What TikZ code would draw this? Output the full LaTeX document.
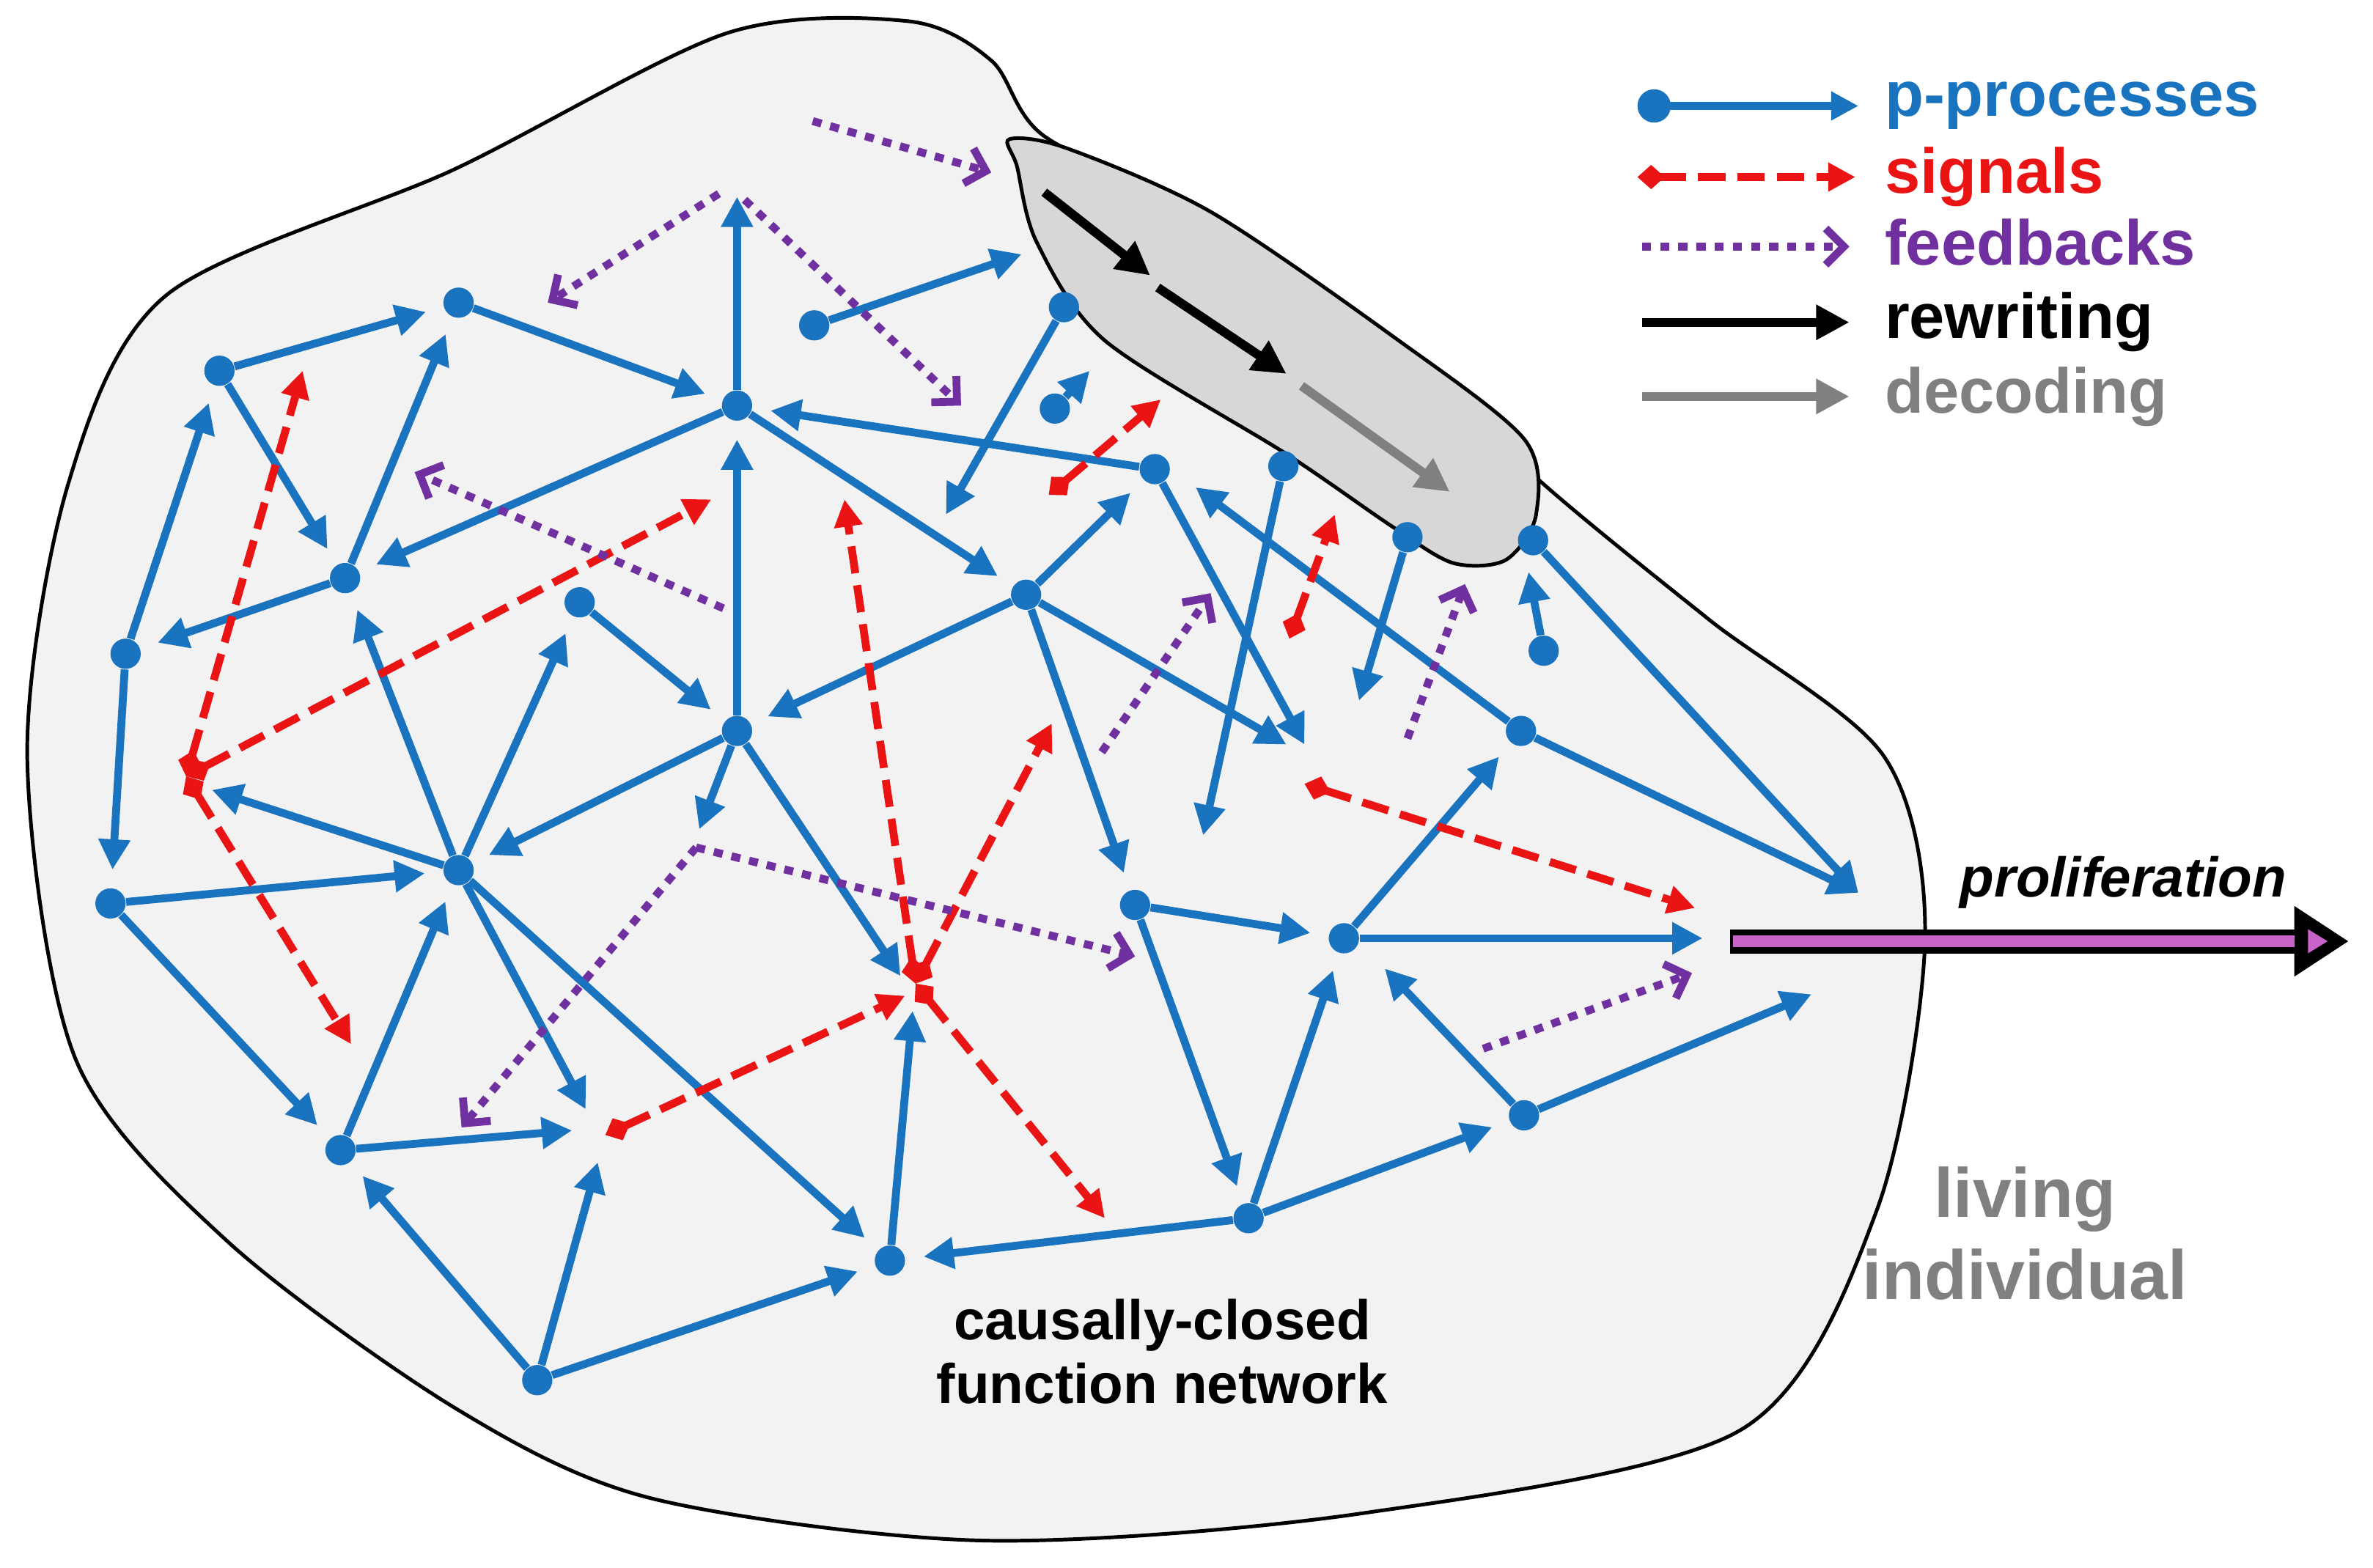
\documentclass[tikz,border=0pt]{standalone}
\usepackage{fontspec}
\setmainfont{Liberation Sans}
\usetikzlibrary{arrows.meta}
\definecolor{pb}{RGB}{25,115,190}
\definecolor{sr}{RGB}{235,20,20}
\definecolor{fp}{RGB}{112,48,160}
\definecolor{bg}{RGB}{242,242,242}
\definecolor{gb}{RGB}{215,215,215}
\definecolor{mg}{RGB}{200,100,200}
\tikzset{
 pp/.style={draw=pb,line width=2.6pt,-{Triangle[length=10pt,width=10pt]}},
 sg/.style={draw=sr,line width=2.6pt,dash pattern=on 9pt off 4pt,{Diamond[length=9pt,width=8pt,fill=sr]}-{Triangle[length=9pt,width=9pt]}},
 fb/.style={draw=fp,line width=2.6pt,dash pattern=on 3pt off 3pt,-{Straight Barb[length=6pt,width=12pt,line width=2.6pt]}},
 dot/.style={circle,fill=pb,inner sep=0pt,minimum size=10pt},
 lab/.style={font=\bfseries\fontsize{21}{24}\selectfont,anchor=west,inner sep=0pt}
}
\begin{document}
\begin{tikzpicture}[x=0.5pt,y=-0.5pt]
\useasboundingbox (0,0) rectangle (1568,1036);
% blob
\draw[fill=bg,line width=1.2pt] plot[smooth cycle,tension=0.5] coordinates{(18,500) (45,320) (110,195) (300,112) (480,22) (600,14) (655,40) (690,90) (800,145) (920,225) (1020,320) (1130,410) (1245,500) (1272,620) (1240,800) (1150,945) (900,1000) (650,1018) (430,990) (300,930) (150,820) (50,700)};
% gray blob
\draw[fill=gb,line width=1.2pt] plot[smooth cycle,tension=0.5] coordinates{(667,92) (705,98) (800,140) (920,222) (1007,290) (1015,340) (995,370) (960,372) (920,348) (850,300) (730,225) (685,160) (672,110)};
\draw[line width=3pt,-{Triangle[length=11pt,width=11pt]}] (690,127) -- (760,182);
\draw[line width=3pt,-{Triangle[length=11pt,width=11pt]}] (765,190) -- (850,247);
\draw[gray,line width=3pt,-{Triangle[length=11pt,width=11pt]}] (860,255) -- (958,325);
% nodes
\foreach \n/\x/\y in {A/145/245,B/303/200,C/487/268,D/228/382,E/83/432,F/383/398,G/487/483,H/678/393,I/763/310,J/303/575,K/73/597,L/225/760,M/588/833,N/825/805,O/750/598,P/888/620,Q/1005/483,R/1007/737,S/355/912,T/538/215,U/703/203,V/697/270,W/848/308,X/930/355,Y/1013/357,Z/1020/430}
  \node[dot] (\n) at (\x,\y) {};
% free ends
\coordinate (top) at (487,130);
\coordinate (tA) at (675,168); \coordinate (tU) at (625,340); \coordinate (tV) at (720,245);
\coordinate (tW) at (795,552); \coordinate (tX) at (898,463); \coordinate (tZ) at (1010,378);
\coordinate (tYQ) at (1228,590); \coordinate (tP) at (1125,620); \coordinate (tR) at (1197,657);
\coordinate (tRi) at (915,640); \coordinate (tMu) at (603,668); \coordinate (tG) at (462,548);
\coordinate (tGM) at (595,645); \coordinate (tJL) at (387,733); \coordinate (tLr) at (378,747);
\coordinate (tS) at (395,768); \coordinate (tJE) at (140,522); \coordinate (tHr) at (850,492); \coordinate (tIr) at (862,492);
\coordinate (tQ) at (790,322);
\tikzset{nd/.style={shorten >=6pt}}
\draw[pp,nd] (A) -- (B); \draw[pp,nd] (A) -- (D); \draw[pp,nd] (E) -- (A);
\draw[pp,nd] (D) -- (B); \draw[pp,nd] (C) -- (D); \draw[pp,nd] (B) -- (C);
\draw[pp] (C) -- (top); \draw[pp,nd] (D) -- (E); \draw[pp,nd] (E) -- (K);
\draw[pp,nd] (K) -- (L); \draw[pp,nd] (K) -- (J); \draw[pp,nd] (J) -- (D);
\draw[pp,nd] (J) -- (F); \draw[pp,nd] (F) -- (G); \draw[pp] (J) -- (tJE);
\draw[pp,nd] (L) -- (J); \draw[pp] (J) -- (tJL); \draw[pp,nd] (J) -- (M);
\draw[pp,nd] (G) -- (J); \draw[pp,nd] (G) -- (C); \draw[pp] (G) -- (tG);
\draw[pp] (G) -- (tGM); \draw[pp,nd] (C) -- (H); \draw[pp,nd] (H) -- (G);
\draw[pp,nd] (H) -- (I); \draw[pp,nd] (H) -- (O); \draw[pp] (H) -- (tHr);
\draw[pp,nd] (I) -- (C); \draw[pp] (I) -- (tIr);
\draw[pp] (T) -- (tA); \draw[pp] (U) -- (tU); \draw[pp] (V) -- (tV);
\draw[pp] (W) -- (tW); \draw[pp] (X) -- (tX); \draw[pp] (Y) -- (tYQ);
\draw[pp] (Z) -- (tZ); \draw[pp] (Q) -- (tQ); \draw[pp] (Q) -- (tYQ);
\draw[pp,nd] (P) -- (Q); \draw[pp] (P) -- (tP); \draw[pp,nd] (O) -- (P);
\draw[pp,nd] (O) -- (N); \draw[pp,nd] (N) -- (P); \draw[pp,nd] (N) -- (R);
\draw[pp,nd] (N) -- (M); \draw[pp] (R) -- (tRi); \draw[pp] (R) -- (tR);
\draw[pp] (M) -- (tMu); \draw[pp,nd] (S) -- (M); \draw[pp,nd] (S) -- (L);
\draw[pp] (S) -- (tS); \draw[pp] (L) -- (tLr);
% signals
\coordinate (r1) at (123,513); \coordinate (r2) at (605,650); \coordinate (r3) at (400,750);
\coordinate (r4) at (862,518); \coordinate (r5) at (852,422); \coordinate (r6) at (693,327);
\draw[sg] (r1) -- (200,245); \draw[sg] (r1) -- (470,330); \draw[sg] (r1) -- (232,690);
\draw[sg] (r2) -- (558,330); \draw[sg] (r2) -- (695,478); \draw[sg] (r2) -- (730,805);
\draw[sg] (r3) -- (598,658); \draw[sg] (r4) -- (1120,600); \draw[sg] (r5) -- (882,340);
\draw[sg] (r6) -- (767,264);
% feedbacks
\draw[fb] (537,80) -- (655,114); \draw[fb] (475,128) -- (362,200); \draw[fb] (492,132) -- (635,268);
\draw[fb] (478,402) -- (274,312); \draw[fb] (728,497) -- (800,392); \draw[fb] (930,488) -- (968,386);
\draw[fb] (460,560) -- (305,745); \draw[fb] (460,560) -- (750,632); \draw[fb] (980,693) -- (1118,643);
% proliferation
\draw[line width=8pt,-{Triangle[length=18pt,width=22pt]}] (1143,622) -- (1552,622);
\draw[mg,line width=4pt,shorten >=12pt] (1145,622) -- (1540,622);
\fill[mg] (1525,614) -- (1538,622) -- (1525,630) -- cycle;
\node[font=\bfseries\itshape\fontsize{18.5}{20}\selectfont] (pr) at (1403,583) {proliferation};
% legend
\coordinate (l1) at (1082,70); \coordinate (l1e) at (1228,70);
\draw[pp,{Circle[length=11pt,width=11pt]}-{Triangle[length=9pt,width=9pt]}] (l1) -- (l1e);
\draw[sg] (1082,117) -- (1226,117);
\draw[fb] (1085,163) -- (1222,163);
\draw[line width=3pt,-{Triangle[length=11pt,width=11pt]}] (1085,213) -- (1222,213);
\draw[gray,line width=3pt,-{Triangle[length=11pt,width=11pt]}] (1085,262) -- (1222,262);
\node[lab,text=pb] (t1) at (1245,70) {p-processes};
\node[lab,text=sr] (t2) at (1245,117) {signals};
\node[lab,text=fp] (t3) at (1245,160) {feedbacks};
\node[lab] (t4) at (1245,213) {rewriting};
\node[lab,text=gray] (t5) at (1245,262) {decoding};
\node[font=\bfseries\fontsize{23}{27}\selectfont,text=gray,align=center] (li) at (1338,815) {living\\individual};
\node[font=\bfseries\fontsize{18.5}{21}\selectfont,align=center] (cc) at (768,893) {causally-closed\\function network};
\end{tikzpicture}
\end{document}
